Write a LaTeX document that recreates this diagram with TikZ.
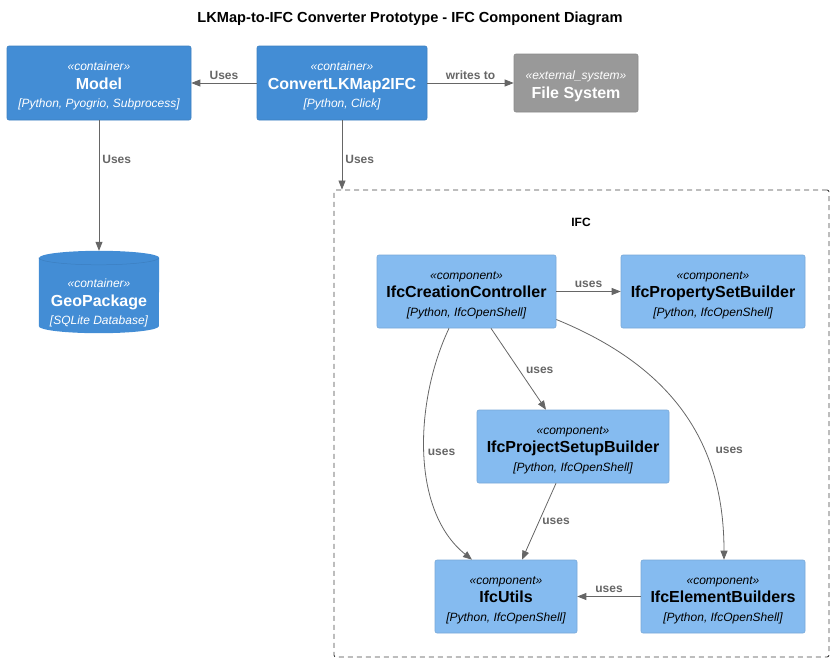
\documentclass[tikz,border=0pt]{standalone}
\usepackage{fontspec}
\setmainfont{Liberation Sans}
\usetikzlibrary{arrows.meta, positioning, calc}

\definecolor{contblue}{HTML}{438DD5}
\definecolor{contline}{HTML}{3C7FC0}
\definecolor{compblue}{HTML}{85BBF0}
\definecolor{compline}{HTML}{78A8D8}
\definecolor{extgray}{HTML}{999999}
\definecolor{extline}{HTML}{8A8A8A}
\definecolor{relgray}{HTML}{666666}
\definecolor{boundgray}{HTML}{444444}

\newcommand{\stereo}[1]{\rule{0pt}{15pt}{\fontsize{12}{18.5}\selectfont\itshape\guillemotleft#1\guillemotright}}
\newcommand{\elname}[1]{{\fontsize{16}{18.5}\selectfont\bfseries #1}}
\newcommand{\techno}[1]{{\fontsize{12}{18.5}\selectfont\itshape [#1]}}

\tikzset{
  container/.style={draw=contline, fill=contblue, text=white, rounded corners=2pt,
    align=center, inner sep=0pt, line width=0.6pt, font=\fontsize{12}{18.5}\selectfont},
  component/.style={draw=compline, fill=compblue, text=black, rounded corners=2pt,
    align=center, inner sep=0pt, line width=0.6pt, font=\fontsize{12}{18.5}\selectfont},
  extsys/.style={draw=extline, fill=extgray, text=white, rounded corners=2pt,
    align=center, inner sep=0pt, line width=0.6pt, font=\fontsize{12}{18.5}\selectfont},
  rel/.style={draw=relgray, line width=0.8pt, -{Triangle[length=9pt, width=7pt]}},
  lbl/.style={text=relgray, font=\fontsize{12}{14}\selectfont\bfseries, inner sep=3pt},
}

\begin{document}
\begin{tikzpicture}[x=1pt, y=-1pt]
  \useasboundingbox (0,0) rectangle (834,662);

  \node[font=\fontsize{14.6}{17}\selectfont\bfseries] (title) at (410,19)
    {LKMap-to-IFC Converter Prototype - IFC Component Diagram};

  % containers
  \node[container, minimum width=184pt, minimum height=74pt] (model) at (99,83)
    {\stereo{container}\\ \elname{Model}\\ \techno{Python, Pyogrio, Subprocess}};
  \node[container, minimum width=170pt, minimum height=74pt] (convert) at (342,83)
    {\stereo{container}\\ \elname{ConvertLKMap2IFC}\\ \techno{Python, Click}};
  \node[extsys, minimum width=124pt, minimum height=58pt] (files) at (576,83)
    {\stereo{external\_system}\\ \elname{File System}};

  % database
  \node[minimum width=120pt, minimum height=82pt, inner sep=0pt] (geo) at (99,292) {};
  \fill[contblue] (geo.north west) ++(0,7) -- ($(geo.south west)+(0,-7)$)
    arc[start angle=180, end angle=360, x radius=60pt, y radius=7pt]
    -- ($(geo.north east)+(0,7)$)
    arc[start angle=0, end angle=180, x radius=60pt, y radius=7pt] -- cycle;
  \draw[contline, line width=0.5pt] ($(geo.north west)+(0,7)$)
    arc[start angle=180, end angle=360, x radius=60pt, y radius=7pt];
  \node[text=white, align=center, font=\fontsize{12}{18.5}\selectfont] (geotext) at (99,300)
    {\stereo{container}\\ \elname{GeoPackage}\\ \techno{SQLite Database}};

  % IFC boundary
  \node[draw=boundgray, line width=0.9pt, dash pattern=on 5pt off 4pt, rounded corners=2pt,
    minimum width=495pt, minimum height=467pt, inner sep=0pt] (ifc) at (581.5,423.5) {};
  \node[font=\fontsize{12}{14}\selectfont\bfseries] (ifclabel) at (581,222) {IFC};

  % components
  \node[component, minimum width=179pt, minimum height=73pt] (ctrl) at (466.5,291.5)
    {\stereo{component}\\ \elname{IfcCreationController}\\ \techno{Python, IfcOpenShell}};
  \node[component, minimum width=184pt, minimum height=73pt] (pset) at (713,291.5)
    {\stereo{component}\\ \elname{IfcPropertySetBuilder}\\ \techno{Python, IfcOpenShell}};
  \node[component, minimum width=192pt, minimum height=73pt] (setup) at (573,446.5)
    {\stereo{component}\\ \elname{IfcProjectSetupBuilder}\\ \techno{Python, IfcOpenShell}};
  \node[component, minimum width=142pt, minimum height=73pt] (utils) at (506,596.5)
    {\stereo{component}\\ \elname{IfcUtils}\\ \techno{Python, IfcOpenShell}};
  \node[component, minimum width=164pt, minimum height=73pt] (elems) at (723,596.5)
    {\stereo{component}\\ \elname{IfcElementBuilders}\\ \techno{Python, IfcOpenShell}};

  % relations
  \draw[rel] (convert.west) -- node[lbl, above] {Uses} (model.east);
  \draw[rel] (convert.east) -- node[lbl, above] {writes to} (files.west);
  \draw[rel] (model.south) -- node[lbl, pos=0.3, right] {Uses} (geo.north);
  \draw[rel] (convert.south) -- node[lbl, pos=0.56, right] {Uses} (convert.south |- ifc.north);
  \draw[rel] (ctrl.east) -- node[lbl, above] {uses} (pset.west);
  \draw[rel] ([xshift=24.5pt]ctrl.south) -- node[lbl, pos=0.52, right=3pt] {uses} ([xshift=-27pt]setup.north);
  \draw[rel] ([xshift=-17.5pt]ctrl.south) .. controls (415,400) and (410,510)
    .. node[lbl, pos=0.5, right] {uses} ([xshift=-34pt]utils.north);
  \draw[rel] ([yshift=-28pt]ctrl.east) .. controls (680,370) and (724,450)
    .. node[lbl, pos=0.63, right=8pt] {uses} ([xshift=1pt]elems.north);
  \draw[rel] ([xshift=-17pt]setup.south) -- node[lbl, pos=0.5, right] {uses} ([xshift=16pt]utils.north);
  \draw[rel] (elems.west) -- node[lbl, above] {uses} (utils.east);
\end{tikzpicture}
\end{document}
